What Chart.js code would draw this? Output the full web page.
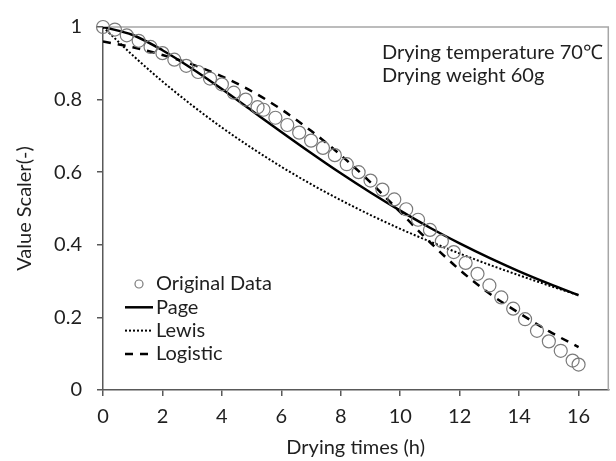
<!DOCTYPE html>
<html>
<head>
<meta charset="utf-8">
<script src="https://cdn.jsdelivr.net/npm/chart.js@4.4.0/dist/chart.umd.min.js"></script>
<style>
  html, body { margin: 0; padding: 0; background: #fff; }
  #wrap { width: 616px; height: 461px; }
</style>
</head>
<body>
<div id="wrap"><canvas id="chart-drying" width="616" height="461"></canvas></div>
<script>
// ─── Values ──────────────────────────────────────────────
const measuredTimes  = [0, 0.4, 0.8, 1.2, 1.6, 2.0, 2.4, 2.8, 3.2, 3.6, 4.0, 4.4, 4.8, 5.2, 5.4,
                        5.8, 6.2, 6.6, 7.0, 7.4, 7.8, 8.2, 8.6, 9.0, 9.4, 9.8, 10.2, 10.6, 11.0,
                        11.4, 11.8, 12.2, 12.6, 13.0, 13.4, 13.8, 14.2, 14.6, 15.0, 15.4, 15.8, 16.0];
const measuredValues = [1.0, 0.993, 0.977, 0.962, 0.945, 0.928, 0.910, 0.893, 0.876, 0.858, 0.842, 0.819, 0.800, 0.779, 0.772,
                        0.750, 0.730, 0.709, 0.687, 0.667, 0.647, 0.622, 0.600, 0.577, 0.552, 0.525, 0.498, 0.469, 0.441,
                        0.410, 0.380, 0.350, 0.320, 0.288, 0.255, 0.224, 0.195, 0.163, 0.134, 0.108, 0.081, 0.070];

const modelTimes     = [0, 1, 2, 3, 4, 5, 6, 7, 8, 9, 10, 11, 12, 13, 14, 15, 16];
const pageValues     = [1.0, 0.978, 0.936, 0.885, 0.829, 0.770, 0.711, 0.653, 0.597, 0.544, 0.494, 0.447, 0.404, 0.364, 0.327, 0.293, 0.261];
const lewisValues    = [1.0, 0.922, 0.850, 0.784, 0.723, 0.667, 0.615, 0.567, 0.523, 0.482, 0.444, 0.409, 0.376, 0.345, 0.316, 0.288, 0.261];
const logisticValues = [0.96, 0.944, 0.923, 0.897, 0.864, 0.823, 0.773, 0.714, 0.647, 0.572, 0.490, 0.407, 0.331, 0.266, 0.212, 0.162, 0.118];

const xTickValues = [0, 2, 4, 6, 8, 10, 12, 14, 16];
const yTickValues = [0, 0.2, 0.4, 0.6, 0.8, 1];
const noteLines   = ['Drying temperature 70\u2103', 'Drying weight 60g'];

// ─── Styling ─────────────────────────────────────────────
const FONT_FAMILY = 'Lato, "Open Sans", sans-serif';
const FONT_SIZE   = 20;
const TEXT_COLOR  = '#1f1f1f';
const AXIS_COLOR  = '#595959';
const FRAME_COLOR = '#a6a6a6';

const pairs = (xs, ys) => xs.map((x, i) => ({ x, y: ys[i] }));

// plot frame (top + right edges; the axes draw the other two)
const plotFrame = {
  id: 'plotFrame',
  beforeDatasetsDraw(chart) {
    const { ctx, chartArea: a } = chart;
    ctx.save();
    ctx.strokeStyle = FRAME_COLOR;
    ctx.lineWidth = 1.5;
    ctx.beginPath();
    ctx.moveTo(a.left, a.top);
    ctx.lineTo(a.right, a.top);
    ctx.lineTo(a.right, a.bottom);
    ctx.stroke();
    ctx.restore();
  }
};

// legend drawn inside the plot, bottom-left
const insideLegend = {
  id: 'insideLegend',
  afterDatasetsDraw(chart) {
    const { ctx, chartArea: a } = chart;
    ctx.save();
    ctx.font = `${FONT_SIZE}px ${FONT_FAMILY}`;
    ctx.textBaseline = 'middle';
    ctx.textAlign = 'left';
    chart.data.datasets.forEach((ds, i) => {
      const y  = a.top + 257 + i * 23.3;
      const x0 = a.left + 22, x1 = a.left + 50;
      ctx.strokeStyle = ds.borderColor;
      ctx.beginPath();
      if (ds.showLine === false) {
        ctx.lineWidth = 1.2;
        ctx.setLineDash([]);
        ctx.arc((x0 + x1) / 2, y, 4, 0, Math.PI * 2);
      } else {
        ctx.lineWidth = ds.borderWidth;
        ctx.setLineDash(ds.borderDash || []);
        ctx.moveTo(x0, y);
        ctx.lineTo(x1, y);
      }
      ctx.stroke();
      ctx.setLineDash([]);
      ctx.fillStyle = TEXT_COLOR;
      ctx.fillText(ds.label, a.left + 53, y);
    });
    ctx.restore();
  }
};

// condition note, top-right
const conditionNote = {
  id: 'conditionNote',
  afterDraw(chart) {
    const { ctx, chartArea: a } = chart;
    ctx.save();
    ctx.font = `${FONT_SIZE}px ${FONT_FAMILY}`;
    ctx.fillStyle = TEXT_COLOR;
    ctx.textBaseline = 'middle';
    noteLines.forEach((t, i) => ctx.fillText(t, a.left + 279, a.top + 26 + i * 23));
    ctx.restore();
  }
};

const tickFont = { family: FONT_FAMILY, size: FONT_SIZE };

new Chart(document.getElementById('chart-drying'), {
  type: 'scatter',
  data: {
    datasets: [
      {
        label: 'Original Data',
        data: pairs(measuredTimes, measuredValues),
        showLine: false,
        pointStyle: 'circle',
        pointRadius: 6.5,
        pointBorderWidth: 1.2,
        borderColor: '#7a7a7a',
        backgroundColor: 'rgba(255,255,255,0)',
        clip: false,
      },
      {
        label: 'Page',
        data: pairs(modelTimes, pageValues),
        showLine: true,
        borderColor: '#000',
        borderWidth: 2.5,
        pointRadius: 0,
        cubicInterpolationMode: 'monotone',
      },
      {
        label: 'Lewis',
        data: pairs(modelTimes, lewisValues),
        showLine: true,
        borderColor: '#000',
        borderWidth: 2,
        borderDash: [2, 2],
        pointRadius: 0,
        cubicInterpolationMode: 'monotone',
      },
      {
        label: 'Logistic',
        data: pairs(modelTimes, logisticValues),
        showLine: true,
        borderColor: '#000',
        borderWidth: 2.5,
        borderDash: [8, 7],
        pointRadius: 0,
        cubicInterpolationMode: 'monotone',
      },
    ],
  },
  options: {
    responsive: false,
    animation: false,
    devicePixelRatio: 1,
    layout: { padding: { top: 19, right: 6, left: 0, bottom: 0 } },
    plugins: {
      legend: { display: false },
      tooltip: { enabled: false },
    },
    scales: {
      x: {
        type: 'linear',
        min: 0,
        max: 17,
        afterBuildTicks: s => { s.ticks = xTickValues.map(v => ({ value: v })); },
        afterFit: s => { s.height = 71; },
        grid:   { drawOnChartArea: false, color: AXIS_COLOR, tickLength: 6, lineWidth: 1.5 },
        border: { color: AXIS_COLOR, width: 1.5 },
        ticks:  { color: TEXT_COLOR, font: tickFont, padding: 9, maxRotation: 0 },
        title:  { display: true, text: 'Drying times (h)', color: TEXT_COLOR, font: tickFont, padding: { top: 0, bottom: 1 } },
      },
      y: {
        type: 'linear',
        min: 0,
        max: 1,
        afterBuildTicks: s => { s.ticks = yTickValues.map(v => ({ value: v })); },
        afterFit: s => { s.width = 103; },
        grid:   { drawOnChartArea: false, color: AXIS_COLOR, tickLength: 6, lineWidth: 1.5 },
        border: { color: AXIS_COLOR, width: 1.5 },
        ticks:  { color: TEXT_COLOR, font: tickFont, padding: 15, callback: v => String(+v.toFixed(1)) },
        title:  { display: true, text: 'Value Scaler(-)', color: TEXT_COLOR, font: tickFont, padding: { top: 13, bottom: 0 } },
      },
    },
  },
  plugins: [plotFrame, insideLegend, conditionNote],
});
</script>
</body>
</html>
